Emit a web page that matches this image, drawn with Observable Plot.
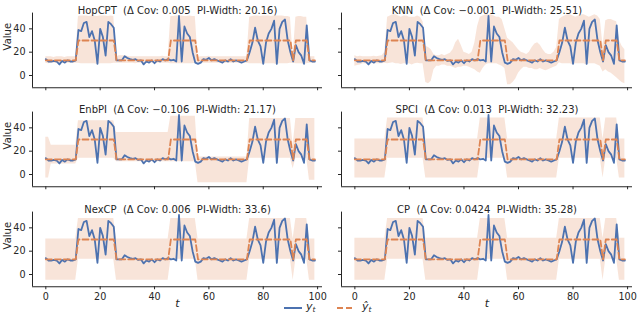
<!DOCTYPE html>
<html>
<head>
<meta charset="utf-8">
<script src="https://cdn.jsdelivr.net/npm/d3@7"></script>
<script src="https://cdn.jsdelivr.net/npm/@observablehq/plot@0.6"></script>
<style>
  html, body { margin: 0; padding: 0; background: #fff; }
  #fig { position: relative; width: 640px; height: 313px; overflow: hidden; font-family: "DejaVu Sans", sans-serif; color: #262626; }
  .panel { position: absolute; }
  .panel svg { overflow: visible; }
  .legline { position: absolute; height: 1.8px; }
  .legtxt { position: absolute; font-size: 11px; font-style: italic; line-height: 11px; white-space: nowrap; }
  .legtxt sub { font-size: 7.5px; font-style: italic; vertical-align: -2px; }
</style>
</head>
<body>
<div id="fig"></div>
<script>
// ---- data ----
const yTrue = [
  14,12,12,12.5,12,9.5,12.5,11,13,12,12,13,
  39,38,45,46,33,38,30,10,40,33,17,46,44,41,
  13,13,13,16.5,15,14,13.5,14,12.5,13,9.5,12,11,13,10.5,13,12,14,13,14,
  13,13.5,12,51,12,42,36,33,20,11,
  10,11,14,13.5,15,13,14,13,12,11,13,12,14,12,13,12,11,12,13,
  20,28,41,30,25,10,28,36,40,47,10,40,46,48,30,20,
  12,
  26,20,17,10,43,
  13,12,12
];
const yHat = [
  13,13,13,13,13,13,13,13,13,13,13,13,
  30,30,30,30,30,30,30,30,30,30,30,30,30,30,
  13,13,13,13,13,13,13,13,13,13,13,13,13,13,13,13,13,13,13,13,
  30,30,30,30,30,30,30,30,30,30,
  13,13,13,13,13,13,13,13,13,13,13,13,13,13,13,13,13,13,13,
  30,30,30,30,30,30,30,30,30,30,30,30,30,30,30,30,
  13,
  30,30,30,30,30,
  13,13,13
];
const methods = ["HopCPT", "KNN", "EnbPI", "SPCI", "NexCP", "CP"];
const deltaCov = ["0.005", "\u22120.001", "\u22120.106", "0.013", "0.006", "0.0424"];
const piWidth = ["20.16", "25.51", "21.17", "32.23", "33.6", "35.28"];
const xTicks = [0, 20, 40, 60, 80, 100];
const yTicks = [0, 20, 40];

const hopLo = [
  10.5,10,10.5,10.5,10.5,10,10.5,10.5,10.5,10.5,10.5,10.5,
  10.5,10,10,10,10,10,10,9.5,10,10,10,10,10,10.5,
  10.5,10.5,10.5,10.5,10.5,10.5,10.5,10,10.5,10.5,10,10.5,10.5,10.5,10,10.5,10.5,10.5,10.5,10.5,
  10,10,10,10,10,10,10,10,10,10.5,
  10.5,10,10.5,10.5,10.5,10.5,10.5,10.5,10.5,10,10.5,10.5,10.5,10.5,10.5,10.5,10,10.5,10.5,
  10,10,10,10,10,9.5,10,10,10,10,9.5,10,10,10,10,10.5,
  10.5,
  10,10,10,9.5,10,
  10.5,10.5,10.5
];
const hopHi = [
  16,16,16,15.5,16,16,16,15.5,16,16,16,16,
  50.5,51,51,51,50.5,51,51,50.5,51,51,51,50.5,51,50.5,
  16,17,17,17,16.5,16,16,16,16,16,16,16,16,16,16,16,16,16.5,16,16,
  50.5,50.5,51,51,51,50.5,50.5,51,50.5,50.5,
  15.5,16,16,16,16.5,16,16,16,16,16,16,16,16,16,16,16,16,16,16,
  50,50.5,51,51,50.5,51,51,51,50.5,51,51,51,51,50.5,50.5,50,
  16,
  50,50.5,50.5,50,50,
  16,16,16
];
const knnLo = [
  8,8.5,9,10,10,9,10,10,10,10,10,10.5,
  10,10.5,11,10,10,9.5,10,10,10,9,10,10.5,10,10,
  -6,-7,-5,5,8,8,9,9,8,8,7,6,7,7,8,8,7,6,5,3,
  2,6,9,10,10,10,10,9,8,6,
  -8,-8,-6,-3,2,5,7,7,6,6,5,5,6,5,4,5,6,7,8,
  11,10,10,10,10,9,10,10,10,10,9,10,10,10,9,8,
  3,
  5,3,2,0,-2,
  -4,-6,-7
];
const knnHi = [
  17,16,16.5,16,16,16,16,16.5,16,16.5,17,20,
  50,51,52,52,51,50,51,51,50,50,50,51,50,46,
  25,24,22,18,17,17,18,17,18,19,22,28,31,26,20,19,18,20,28,42,
  50,51,52,52,52,51,50,50,48,40,
  32,30,28,25,22,20,19,18,20,24,27,28,26,22,19,18,18,20,24,
  48,50,51,52,52,51,50,51,52,52,51,50,51,52,51,48,
  25,
  47,48,48,47,46,
  30,25,22
];
const enbLo = [
  -3,-3,9,9,9,9,9,9,9,9,9,9,
  14,14,14,14,14,14,14,14,14,14,14,14,14,14,
  11,11,11,11,11,11,11,11,11,11,11,11,11,11,11,11,11,11,11,11,
  11,11,11,11,11,11,11,11,11,11,
  -7,-7,-7,-7,-7,-7,-7,-7,-7,-7,-7,-7,-7,-7,-7,-7,-7,-7,-7,
  14,14,14,14,14,14,14,14,14,14,14,14,14,14,14,14,
  5,
  14,14,14,14,14,
  -5,-5,-5
];
const enbHi = [
  32,32,25,25,25,25,25,25,25,25,25,25,
  46,46,46,46,46,46,46,46,46,46,46,46,46,46,
  36,36,36,36,36,36,36,36,36,36,36,36,36,36,36,36,36,36,36,36,
  50,50,50,50,50,50,50,50,50,50,
  15,15,15,15,15,15,15,15,15,15,15,15,15,15,15,15,15,15,15,
  48,48,48,48,48,48,48,48,48,48,48,48,48,48,48,48,
  25,
  48,48,48,48,48,
  48,48,48
];
const spciLo = [
  -3,-3,-3,-3,-3,-3,-3,-3,-3,-3,-3,-3,
  14,14,14,14,14,14,14,14,14,14,14,14,14,14,
  -3,-3,-3,-3,-3,-3,-3,-3,-3,-3,-3,-3,-3,-3,-3,-3,-3,-3,-3,-3,
  14,14,14,14,14,14,14,14,14,14,
  -3,-3,-3,-3,-3,-3,-3,-3,-3,-3,-3,-3,-3,-3,-3,-3,-3,-3,-3,
  14,14,14,14,14,14,14,14,14,14,14,14,14,14,14,14,
  -3,
  14,14,14,14,14,
  -3,-3,-3
];
const spciHi = [
  30.5,30.5,30.5,30.5,30.5,30.5,30.5,30.5,30.5,30.5,30.5,30.5,
  48.5,48.5,48.5,48.5,48.5,48.5,48.5,48.5,48.5,48.5,48.5,48.5,48.5,48.5,
  30.5,30.5,30.5,30.5,30.5,30.5,30.5,30.5,30.5,30.5,30.5,30.5,30.5,30.5,30.5,30.5,30.5,30.5,30.5,30.5,
  48.5,48.5,48.5,48.5,48.5,48.5,48.5,48.5,48.5,48.5,
  30.5,30.5,30.5,30.5,30.5,30.5,30.5,30.5,30.5,30.5,30.5,30.5,30.5,30.5,30.5,30.5,30.5,30.5,30.5,
  48.5,48.5,48.5,48.5,48.5,48.5,48.5,48.5,48.5,48.5,48.5,48.5,48.5,48.5,48.5,48.5,
  30.5,
  48.5,48.5,48.5,48.5,48.5,
  30.5,30.5,30.5
];
const nexLo = [
  -5,-5,-5,-5,-5,-5,-5,-5,-5,-5,-5,-5,
  13,13,13,13,13,13,13,13,13,13,13,13,13,13,
  -5,-5,-5,-5,-5,-5,-5,-5,-5,-5,-5,-5,-5,-5,-5,-5,-5,-5,-5,-5,
  13,13,13,13,13,13,13,13,13,13,
  -5,-5,-5,-5,-5,-5,-5,-5,-5,-5,-5,-5,-5,-5,-5,-5,-5,-5,-5,
  13,13,13,13,13,13,13,13,13,13,13,13,13,13,13,13,
  -5,
  13,13,13,13,13,
  -5,-5,-5
];
const nexHi = [
  30.5,30.5,30.5,30.5,30.5,30.5,30.5,30.5,30.5,30.5,30.5,30.5,
  48,48,48,48,48,48,48,48,48,48,48,48,48,48,
  30.5,30.5,30.5,30.5,30.5,30.5,30.5,30.5,30.5,30.5,30.5,30.5,30.5,30.5,30.5,30.5,30.5,30.5,30.5,30.5,
  48,48,48,48,48,48,48,48,48,48,
  30.5,30.5,30.5,30.5,30.5,30.5,30.5,30.5,30.5,30.5,30.5,30.5,30.5,30.5,30.5,30.5,30.5,30.5,30.5,
  48,48,48,48,48,48,48,48,48,48,48,48,48,48,48,48,
  30.5,
  48,48,48,48,48,
  30.5,30.5,30.5
];
const cpLo = [
  -5,-5,-5,-5,-5,-5,-5,-5,-5,-5,-5,-5,
  13,13,13,13,13,13,13,13,13,13,13,13,13,13,
  -5,-5,-5,-5,-5,-5,-5,-5,-5,-5,-5,-5,-5,-5,-5,-5,-5,-5,-5,-5,
  13,13,13,13,13,13,13,13,13,13,
  -5,-5,-5,-5,-5,-5,-5,-5,-5,-5,-5,-5,-5,-5,-5,-5,-5,-5,-5,
  13,13,13,13,13,13,13,13,13,13,13,13,13,13,13,13,
  -5,
  13,13,13,13,13,
  -5,-5,-5
];
const cpHi = [
  31,31,31,31,31,31,31,31,31,31,31,31,
  48,48,48,48,48,48,48,48,48,48,48,48,48,48,
  31,31,31,31,31,31,31,31,31,31,31,31,31,31,31,31,31,31,31,31,
  48,48,48,48,48,48,48,48,48,48,
  31,31,31,31,31,31,31,31,31,31,31,31,31,31,31,31,31,31,31,
  48,48,48,48,48,48,48,48,48,48,48,48,48,48,48,48,
  31,
  48,48,48,48,48,
  31,31,31
];
const bandLo = [hopLo, knnLo, enbLo, spciLo, nexLo, cpLo];
const bandHi = [hopHi, knnHi, enbHi, spciHi, nexHi, cpHi];

// ---- layout ----
const X_DOMAIN = [-4.9, 101.8];
const Y_DOMAIN = [-10.5, 53.5];
const AX_H = 74.65;
const MT = 12.6;
const rowTop = [12.6, 111.9, 211.3];
const cols = [
  {left: 0, width: 326, ml: 32, mr: 4},
  {left: 320, width: 320, ml: 21, mr: 8}
];
const BLUE = "#4C72B0", ORANGE = "#DD8452", INK = "#262626";
const fig = document.getElementById("fig");
const NB = "\u00a0";

methods.forEach((m, i) => {
  const r = Math.floor(i / 2), c = i % 2;
  const bottom = r === 2;
  const col = cols[c];
  const mb = bottom ? 27 : 5;
  const rows = yTrue.map((v, k) => ({t: k, y: v, yhat: yHat[k], lo: bandLo[i][k], hi: bandHi[i][k]}));
  const title = `${m}${NB}${NB}(\u0394 Cov: ${deltaCov[i]}${NB}${NB}PI-Width: ${piWidth[i]})`;
  const marks = [
    Plot.areaY(rows, {x: "t", y1: "lo", y2: "hi", fill: ORANGE, fillOpacity: 0.22, curve: "linear"}),
    Plot.lineY(rows, {x: "t", y: "y", stroke: BLUE, strokeWidth: 1.8, curve: "linear"}),
    Plot.lineY(rows, {x: "t", y: "yhat", stroke: ORANGE, strokeWidth: 1.8, strokeDasharray: "6,3", curve: "linear"}),
    Plot.ruleX([X_DOMAIN[0]], {stroke: INK, strokeWidth: 1}),
    Plot.ruleY([Y_DOMAIN[0]], {stroke: INK, strokeWidth: 1}),
    Plot.axisX({ticks: xTicks, tickSize: 3, tickPadding: 3, stroke: INK, fill: INK,
      tickFormat: bottom ? (d => String(d)) : (() => ""), label: null, fontSize: 9.6}),
    Plot.axisY({ticks: yTicks, tickSize: 3, tickPadding: 4, stroke: INK, fill: INK,
      tickFormat: c === 0 ? (d => String(d)) : (() => ""), label: null, fontSize: 9.6}),
    Plot.text([title], {text: d => d, frameAnchor: "top", dy: -6.6, fontSize: 10, fill: INK})
  ];
  if (c === 0) {
    marks.push(Plot.text(["Value"], {text: d => d, frameAnchor: "left", dx: -24.5, rotate: -90, fontSize: 10, fill: INK}));
  }
  if (bottom) {
    marks.push(Plot.text(["t"], {text: d => d, frameAnchor: "bottom", dy: 20.5, fontSize: 11, fontStyle: "italic", fill: INK}));
  }
  const svg = Plot.plot({
    width: col.width,
    height: MT + AX_H + mb,
    marginLeft: col.ml,
    marginRight: col.mr,
    marginTop: MT,
    marginBottom: mb,
    x: {domain: X_DOMAIN},
    y: {domain: Y_DOMAIN},
    style: {fontFamily: "DejaVu Sans, sans-serif", fontSize: "9.6px", color: INK, background: "transparent", overflow: "visible"},
    marks
  });
  const div = document.createElement("div");
  div.className = "panel";
  div.style.left = col.left + "px";
  div.style.top = (rowTop[r] - MT) + "px";
  div.appendChild(svg);
  fig.appendChild(div);
});

// ---- legend ----
function legend(x, y, w, bg, html, tx) {
  const l = document.createElement("div");
  l.className = "legline";
  l.style.left = x + "px"; l.style.top = y + "px"; l.style.width = w + "px";
  l.style.background = bg;
  fig.appendChild(l);
  const t = document.createElement("div");
  t.className = "legtxt";
  t.style.left = tx + "px"; t.style.top = (y - 6) + "px";
  t.innerHTML = html;
  fig.appendChild(t);
}
legend(284, 306.8, 18, BLUE, "y<sub>t</sub>", 306);
legend(337, 306.8, 17, `repeating-linear-gradient(90deg, ${ORANGE} 0 6px, transparent 6px 9px)`, "\u0177<sub>t</sub>", 362);
</script>
</body>
</html>
